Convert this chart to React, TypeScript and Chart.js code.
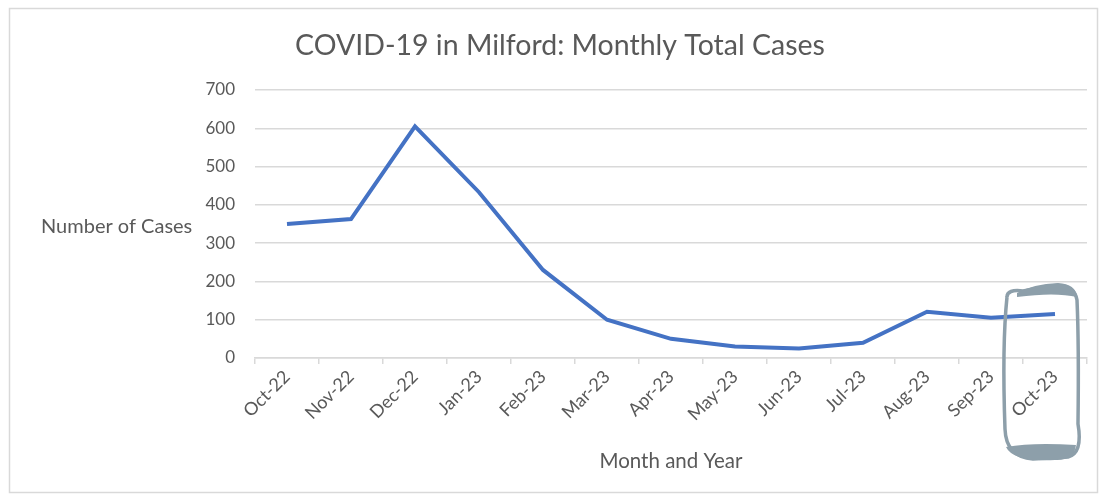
import React, { useEffect, useRef } from "react";
import { Chart, registerables } from "chart.js";

Chart.register(...registerables);

const chartTitle = "COVID-19 in Milford: Monthly Total Cases";
const yAxisTitle = "Number of Cases";
const xAxisTitle = "Month and Year";
const months = ["Oct-22", "Nov-22", "Dec-22", "Jan-23", "Feb-23", "Mar-23", "Apr-23", "May-23", "Jun-23", "Jul-23", "Aug-23", "Sep-23", "Oct-23"];
const cases = [350, 363, 605, 433, 230, 100, 50, 30, 25, 40, 121, 105, 115];
const yMin = 0;
const yMax = 700;
const yStep = 100;
const highlightIndex = 12;

const FONT = "Lato, 'Open Sans', sans-serif";
const TEXT = "#595959";
const GRID = "#d9d9d9";

const decorPlugin = {
  id: "decor",
  afterDraw(chart: any) {
    const ctx = chart.ctx;
    const xs = chart.scales.x;
    const ys = chart.scales.y;
    ctx.save();
    // outer frame
    ctx.strokeStyle = "#d9d9d9";
    ctx.lineWidth = 1.5;
    ctx.strokeRect(9.5, 8.5, 1088, 484);
    // title
    ctx.fillStyle = TEXT;
    ctx.font = `28.5px ${FONT}`;
    ctx.textAlign = "center";
    ctx.textBaseline = "middle";
    ctx.fillText(chartTitle, 560, 46);
    // y axis title (horizontal)
    ctx.font = `20px ${FONT}`;
    ctx.textAlign = "left";
    ctx.fillText(yAxisTitle, 41, (ys.top + ys.bottom) / 2 + 3);
    // hand-drawn highlight around last category
    const cx = xs.getPixelForValue(highlightIndex);
    const L = cx - 52, R = cx + 25, T = 285, B = 459;
    ctx.strokeStyle = "#8d9faa";
    ctx.fillStyle = "#8d9faa";
    ctx.lineWidth = 3.5;
    ctx.beginPath();
    ctx.moveTo(L + 4, T + 12);
    ctx.quadraticCurveTo(L - 1, T + 60, L + 2, B - 30);
    ctx.quadraticCurveTo(L + 3, B - 2, L + 30, B);
    ctx.lineTo(R - 12, B - 2);
    ctx.quadraticCurveTo(R + 3, B - 6, R - 2, B - 35);
    ctx.quadraticCurveTo(R - 1, T + 60, R - 3, T + 15);
    ctx.quadraticCurveTo(R - 6, T - 2, R - 30, T + 1);
    ctx.lineTo(L + 20, T + 6);
    ctx.quadraticCurveTo(L + 4, T + 4, L + 4, T + 12);
    ctx.stroke();
    // thick top band
    ctx.beginPath();
    ctx.moveTo(L + 14, T + 8);
    ctx.quadraticCurveTo(L + 30, T - 1, R - 22, T - 2);
    ctx.quadraticCurveTo(R - 4, T - 1, R - 3, T + 12);
    ctx.quadraticCurveTo(R - 25, T + 7, L + 14, T + 12);
    ctx.closePath();
    ctx.fill();
    // thick bottom band
    ctx.beginPath();
    ctx.moveTo(L + 3, B - 12);
    ctx.quadraticCurveTo(L + 30, B - 17, R - 4, B - 14);
    ctx.quadraticCurveTo(R - 6, B + 2, R - 25, B + 1);
    ctx.quadraticCurveTo(L + 10, B + 3, L + 3, B - 12);
    ctx.closePath();
    ctx.fill();
    ctx.restore();
  },
};

export default function App() {
  const ref = useRef<HTMLCanvasElement | null>(null);
  useEffect(() => {
    if (!ref.current) return;
    const chart = new Chart(ref.current, {
      type: "line",
      data: {
        labels: months,
        datasets: [
          {
            label: "Cases",
            data: cases,
            borderColor: "#4472C4",
            backgroundColor: "#4472C4",
            borderWidth: 4,
            pointRadius: 0,
            tension: 0,
            fill: false,
          },
        ],
      },
      options: {
        responsive: false,
        animation: false,
        layout: { padding: { left: 195, right: 14, top: 90, bottom: 8 } },
        plugins: {
          legend: { display: false },
          tooltip: { enabled: false },
          title: { display: false },
        },
        scales: {
          x: {
            type: "category",
            offset: true,
            grid: {
              offset: true,
              drawOnChartArea: false,
              drawTicks: true,
              tickLength: 6,
              color: GRID,
              lineWidth: 1.5,
            },
            border: { display: true, color: GRID, width: 1.5 },
            ticks: {
              color: TEXT,
              font: { family: FONT, size: 18 },
              minRotation: 45,
              maxRotation: 45,
              padding: 2,
              autoSkip: false,
            },
            title: {
              display: true,
              text: xAxisTitle,
              color: TEXT,
              font: { family: FONT, size: 20.5 },
              padding: { top: 0, bottom: 12 },
            },
            afterFit(scale: any) {
              scale.height = 128;
            },
          },
          y: {
            min: yMin,
            max: yMax,
            ticks: {
              stepSize: yStep,
              color: TEXT,
              font: { family: FONT, size: 17 },
              padding: 20,
            },
            grid: { color: GRID, lineWidth: 1.5, drawTicks: false },
            border: { display: false },
            afterFit(scale: any) {
              scale.width = 60;
            },
          },
        },
      },
      plugins: [decorPlugin],
    });
    return () => chart.destroy();
  }, []);
  return (
    <div style={{ position: "absolute", left: 0, top: 0, width: 1101, height: 494, background: "#fff" }}>
      <canvas ref={ref} width={1101} height={494} style={{ display: "block" }} />
    </div>
  );
}
